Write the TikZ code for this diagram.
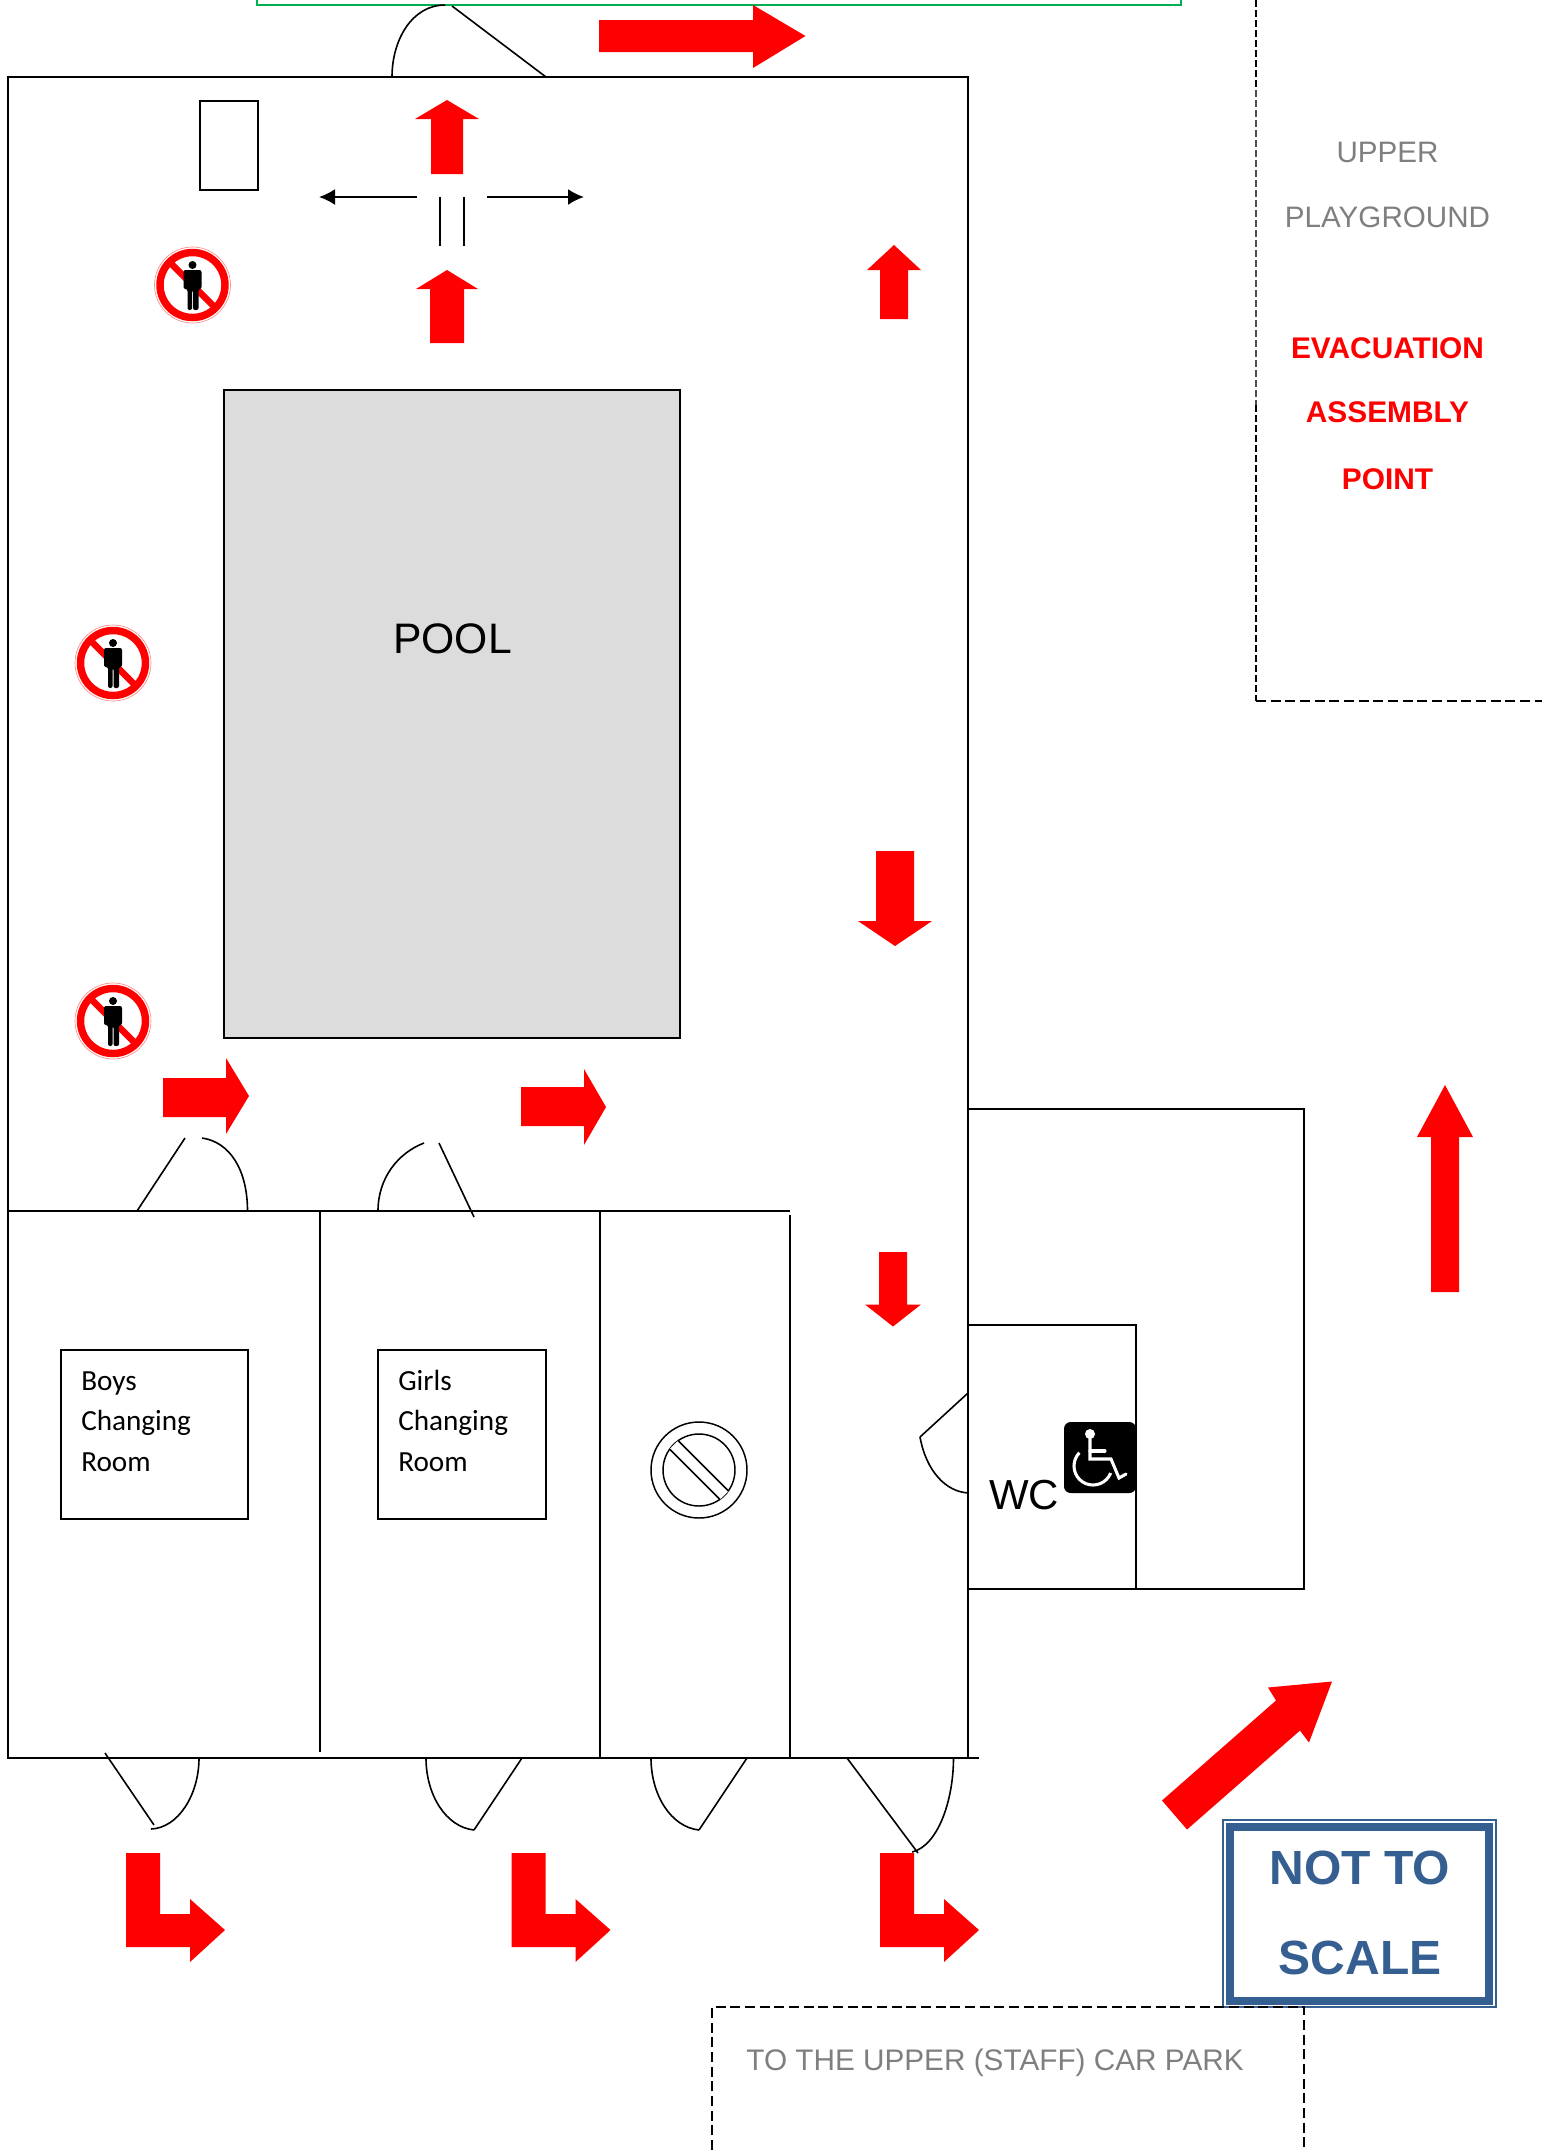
\documentclass[tikz,border=0pt]{standalone}
\usepackage{fontspec}
\usetikzlibrary{arrows.meta}
\setmainfont{Liberation Sans}
\newfontfamily\carlito{Carlito}
\definecolor{signblue}{HTML}{365F91}
\definecolor{pool}{HTML}{DCDCDC}
\definecolor{greytext}{HTML}{7F7F7F}
\definecolor{exitgreen}{HTML}{00B050}
\newcommand{\fs}[1]{\fontsize{#1}{#1}\selectfont}
\newcommand{\nowalk}[2]{%
 \begin{scope}[shift={(#1,#2)}]
  \draw[red!45,line width=0.5pt] (0,0) circle (38);
  \draw[red,line width=5.6pt] (0,0) circle (32.5);
  \draw[red,line width=4.8pt] (-22,-22) -- (22,22);
  \fill (0,-20) circle (4);
  \fill[rounded corners=1.5] (-9,-15) -- (9,-15) -- (9,4) -- (6,4) -- (6,25) -- (0.5,25) -- (0.5,5) -- (-0.5,5) -- (-0.5,25) -- (-5,25) -- (-5,4) -- (-9,4) -- cycle;
 \end{scope}}
\newcommand{\larrow}[1]{%
 \fill[red,shift={(#1,0)}] (126,1853) -- (160,1853) -- (160,1914) -- (190,1914) -- (190,1899) -- (225,1930) -- (190,1962) -- (190,1947) -- (126,1947) -- cycle;}
\newcommand{\vertarrow}[6]{% cx, half head, half shaft, tip, base, tail
 \fill[red] (#1,#4) -- ({#1+#2},#5) -- ({#1+#3},#5) -- ({#1+#3},#6) -- ({#1-#3},#6) -- ({#1-#3},#5) -- ({#1-#2},#5) -- cycle;}
\tikzset{
 wall/.style={line width=1.5pt,draw=black},
 thin wall/.style={line width=1.2pt,draw=black},
 dash line/.style={line width=1.3pt,draw=black,dash pattern=on 7.5pt off 3.5pt},
 label text/.style={inner sep=0pt,anchor=center},
}
\begin{document}
\begin{tikzpicture}[x=0.75pt,y=-0.75pt]
\useasboundingbox (0,0) rectangle (1545,2150);
% green exit box
\draw[exitgreen,line width=1.5pt] (257,-10) -- (257,5) -- (1181,5) -- (1181,-10);
% main building
\draw[wall] (7.5,77) rectangle (968,1758);
\draw[wall] (968,1758) -- (979,1758);
\draw[wall] (7.5,1211) -- (790,1211);
\draw[wall] (319.5,1211) -- (319.5,1752);
\draw[wall] (599.5,1211) -- (599.5,1758);
\draw[wall] (790,1215) -- (790,1758);
% pool
\draw[wall,fill=pool] (224,389.5) rectangle (680,1038);
\node[label text] (poolt) at (452.5,639) {\fs{32}POOL};
% top door
\draw[thin wall] (392,77) .. controls (392,40) and (412,5) .. (445,5);
\draw[thin wall] (452,6) -- (546,77);
% store
\draw[wall] (199.5,101) rectangle (257.5,190);
% lateral arrows
\draw[line width=1.5pt,-{Latex[length=12pt,width=12pt]}] (417,197) -- (319,197);
\draw[line width=1.5pt,-{Latex[length=12pt,width=12pt]}] (487,197) -- (584,197);
\draw[line width=1.3pt] (440,197) -- (440,246);
\draw[line width=1.3pt] (464,197) -- (464,246);
% red arrows vertical
\vertarrow{447}{32}{16}{100}{119}{174}
\vertarrow{447}{31}{17}{270}{289}{343}
\vertarrow{894}{27}{14}{245}{270}{319}
\vertarrow{895}{37}{19}{946}{921}{851}
\vertarrow{893}{28}{14}{1326.5}{1304.5}{1252}
\vertarrow{1445}{28}{14}{1085}{1137}{1292}
% horizontal red arrows
\fill[red] (599,20) -- (753,20) -- (753,5) -- (805.5,36) -- (753,68) -- (753,52) -- (599,52) -- cycle;
\fill[red] (163,1078) -- (226,1078) -- (226,1058) -- (249,1096) -- (226,1134) -- (226,1117) -- (163,1117) -- cycle;
\fill[red] (521,1087) -- (584,1087) -- (584,1069) -- (606,1107) -- (584,1145) -- (584,1126) -- (521,1126) -- cycle;
% diagonal red arrow
\fill[red] (1332,1681.5) -- (1309,1742.5) -- (1300,1730.5) -- (1187,1829.5) -- (1162,1800.5) -- (1276,1700.5) -- (1268,1687.5) -- cycle;
% L arrows
\larrow{0}\larrow{385.5}\larrow{754}
% no entry signs
\nowalk{192.5}{285}\nowalk{113}{663}\nowalk{113}{1021}
% changing room doors
\draw[thin wall] (137,1211) -- (185,1138);
\draw[thin wall] (202,1138) .. controls (230,1142) and (247.5,1170) .. (247.5,1211);
\draw[thin wall] (378,1211) .. controls (378,1178) and (398,1153) .. (424,1143);
\draw[thin wall] (439,1143) -- (474,1217);
% bottom doors
\draw[thin wall] (105,1753) -- (154,1825);
\draw[thin wall] (151,1829) .. controls (178,1828) and (199,1795) .. (199,1758);
\draw[thin wall] (426,1758) .. controls (426,1795) and (446,1827) .. (474,1830);
\draw[thin wall] (474,1830) -- (522,1758);
\draw[thin wall] (651,1758) .. controls (651,1795) and (671,1827) .. (699,1830);
\draw[thin wall] (699,1830) -- (747,1758);
\draw[thin wall] (847,1758) -- (918,1853);
\draw[thin wall] (953.5,1758) .. controls (953.5,1800) and (938,1846) .. (912,1852);
% room labels
\draw[wall] (61,1350) rectangle (248,1519);
\draw[wall] (377.5,1350) rectangle (545.5,1519);
\node[anchor=west,inner sep=0pt] (b1) at (81,1383) {\carlito\fs{21.9}Boys};
\node[anchor=west,inner sep=0pt] (b2) at (81,1423) {\carlito\fs{21.9}Changing};
\node[anchor=west,inner sep=0pt] (b3) at (81,1462.5) {\carlito\fs{21.9}Room};
\node[anchor=west,inner sep=0pt] (g1) at (398,1380.5) {\carlito\fs{21.9}Girls};
\node[anchor=west,inner sep=0pt] (g2) at (398,1423) {\carlito\fs{21.9}Changing};
\node[anchor=west,inner sep=0pt] (g3) at (398,1462.5) {\carlito\fs{21.9}Room};
% prohibition sign
\begin{scope}[shift={(699,1470)}]
 \draw[line width=1.1pt] (0,0) circle (48);
 \draw[line width=1.1pt] (0,0) circle (36);
 \fill[white] (-29.5,-21) -- (21,29.5) -- (29.5,21) -- (-21,-29.5) -- cycle;
 \draw[line width=1.1pt] (-29.5,-21) -- (21,29.5);
 \draw[line width=1.1pt] (-21,-29.5) -- (29.5,21);
\end{scope}
% WC block
\draw[wall] (968,1109) -- (1303.5,1109) -- (1303.5,1589) -- (968,1589);
\draw[wall] (968,1324.5) -- (1136,1324.5) -- (1136,1589);
\draw[thin wall] (968,1393) -- (920,1437);
\draw[thin wall] (920,1437) .. controls (926,1470) and (945,1492) .. (969,1493);
\node[label text] (wc) at (1024,1495) {\fs{31.5}WC};
\fill[rounded corners=5pt] (1064,1422) rectangle (1136,1493);
\draw[white,line width=2.3pt] (1093,1466) circle (19);
\fill[black] (1093,1466) -- (1067,1440) -- (1093,1425) -- (1135,1440) -- (1129,1480) -- cycle;
\fill[white] (1090,1434) circle (5);
\draw[white,line width=2.3pt,line cap=round] (1090,1434) -- (1090,1459) -- (1111,1459) -- (1119,1478) -- (1126,1474);
\draw[white,line width=2.3pt,line cap=round] (1090,1451) -- (1105,1451);
% not to scale
\draw[signblue,line width=1.5pt] (1223,1820) rectangle (1496,2007);
\draw[signblue,line width=5.5pt] (1230,1827) rectangle (1489,2001);
\node[label text] (nts1) at (1360,1868) {\fs{36}\bfseries\color{signblue}NOT TO};
\node[label text] (nts2) at (1360,1958) {\fs{36}\bfseries\color{signblue}SCALE};
% car park
\draw[dash line] (712,2150) -- (712,2007) -- (1304,2007) -- (1304,2150);
\node[label text] (car) at (995,2063) {\fs{22.3}\color{greytext}TO THE UPPER (STAFF) CAR PARK};
% playground
\draw[dash line,dash pattern=on 5pt off 2.5pt] (1256,0) -- (1256,90);
\draw[line width=0.9pt,draw=black!70,dash pattern=on 5pt off 2.5pt] (1256,90) -- (1256,405);
\draw[dash line,dash pattern=on 5pt off 2.5pt] (1256,405) -- (1256,701);
\draw[dash line] (1256,701) -- (1542,701);
\node[label text] (pg1) at (1387.5,152) {\fs{22.2}\color{greytext}UPPER};
\node[label text] (pg2) at (1387.5,217) {\fs{22.2}\color{greytext}PLAYGROUND};
\node[label text] (ev1) at (1387.5,348) {\fs{22.4}\bfseries\color{red}EVACUATION};
\node[label text] (ev2) at (1387.5,412) {\fs{22.4}\bfseries\color{red}ASSEMBLY};
\node[label text] (ev3) at (1387.5,479) {\fs{22.4}\bfseries\color{red}POINT};
\end{tikzpicture}
\end{document}
